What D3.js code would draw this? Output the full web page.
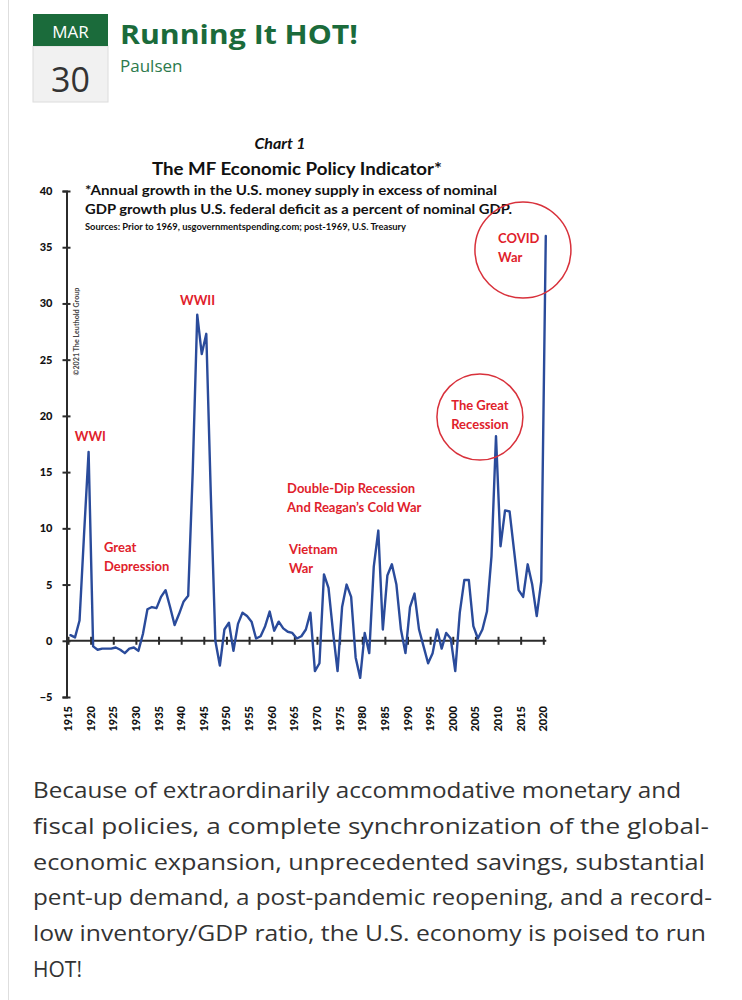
<!DOCTYPE html>
<html><head><meta charset="utf-8">
<script src="https://cdn.jsdelivr.net/npm/d3@7"></script>
<style>html,body{margin:0;padding:0;background:#fff;} svg{display:block;}</style>
</head><body>
<svg id="c" width="742" height="1000"></svg>
<script>
// ---------- data ----------
const years = d3.range(1915, 2021);
const values = [
  0.5, 0.3, 1.8, 9.5, 16.8,                               // 1915-1919
  -0.5, -0.8, -0.7, -0.7, -0.7, -0.6, -0.8, -1.1, -0.7, -0.6, // 1920s
  -0.9, 0.6, 2.8, 3.0, 2.9, 3.9, 4.5, 3.0, 1.4, 2.4,      // 1930s
  3.5, 4.0, 15.0, 29.0, 25.5, 27.3, 13.0, 0.0, -2.2, 1.0, // 1940s
  1.6, -0.9, 1.5, 2.5, 2.2, 1.7, 0.2, 0.4, 1.3, 2.6,      // 1950s
  0.9, 1.7, 1.1, 0.8, 0.7, 0.2, 0.4, 1.0, 2.5, -2.7,      // 1960s
  -2.0, 5.9, 4.7, 0.8, -2.7, 3.0, 5.0, 3.9, -1.5, -3.3,   // 1970s
  0.7, -1.1, 6.6, 9.8, 1.0, 5.8, 6.8, 5.0, 1.0, -1.1,     // 1980s
  3.0, 4.2, 1.0, -0.5, -2.0, -1.1, 1.0, -0.7, 0.7, 0.2,   // 1990s
  -2.7, 2.5, 5.4, 5.4, 1.3, 0.2, 1.0, 2.6, 7.5, 18.2,     // 2000s
  8.4, 11.6, 11.5, 8.0, 4.5, 3.9, 6.8, 5.0, 2.2, 5.3,     // 2010s
  36.0                                                    // 2020
];
const yTickValues = [-5, 0, 5, 10, 15, 20, 25, 30, 35, 40];
const xTickValues = d3.range(1915, 2021, 5);

const annotationLines = [
  ["WWI"],
  ["Great", "Depression"],
  ["WWII"],
  ["Double-Dip Recession", "And Reagan\u2019s Cold War"],
  ["Vietnam", "War"],
  ["The Great", "Recession"],
  ["COVID", "War"]
];
const annotationAnchors = [
  [1916.5, 17.8], [1922.95, 7.9], [1939.75, 29.9], [1963.4, 13.1],
  [1963.8, 7.7], [2006.0, 20.5], [2010.0, 35.4]
];
const annotationAlign = ["start","start","start","start","start","middle","start"];
const circleCenters = [[2006.0, 19.9], [2015.5, 34.75]];
const circleRadii = [43, 48];

const bodyLines = [
  "Because of extraordinarily accommodative monetary and",
  "fiscal policies, a complete synchronization of the global-",
  "economic expansion, unprecedented savings, substantial",
  "pent-up demand, a post-pandemic reopening, and a record-",
  "low inventory/GDP ratio, the U.S. economy is poised to run",
  "HOT!"
];
const bodyWidths = [648, 676, 672, 679, 673, null];

// ---------- drawing ----------
const svg = d3.select("#c");
svg.append("rect").attr("width", 742).attr("height", 1000).attr("fill", "#fff");
svg.append("line").attr("x1", 8.5).attr("x2", 8.5).attr("y1", 0).attr("y2", 1000)
  .attr("stroke", "#dedede").attr("stroke-width", 1);

// header
const green = "#1b6b3b";
svg.append("rect").attr("x", 33).attr("y", 46).attr("width", 75).attr("height", 56)
  .attr("fill", "#f1f1f1").attr("stroke", "#dcdcdc");
svg.append("rect").attr("x", 33).attr("y", 14).attr("width", 75).attr("height", 32)
  .attr("fill", green);
svg.append("text").attr("x", 70.5).attr("y", 38).attr("text-anchor", "middle")
  .attr("font-family", "Open Sans").attr("font-size", 17).attr("fill", "#fff").text("MAR");
svg.append("text").attr("x", 70.5).attr("y", 92).attr("text-anchor", "middle")
  .attr("font-family", "Open Sans").attr("font-size", 34).attr("fill", "#333").text("30");
svg.append("text").attr("x", 120).attr("y", 44)
  .attr("font-family", "Open Sans").attr("font-weight", 700).attr("font-size", 27)
  .attr("fill", green).attr("textLength", 238).attr("lengthAdjust", "spacingAndGlyphs")
  .text("Running It HOT!");
svg.append("text").attr("x", 120).attr("y", 72)
  .attr("font-family", "Open Sans").attr("font-size", 17).attr("fill", "#2c7a4c").text("Paulsen");

// chart titles
const cf = "Lato";
svg.append("text").attr("x", 280).attr("y", 149).attr("text-anchor", "middle")
  .attr("font-family", cf).attr("font-weight", 700).attr("font-style", "italic")
  .attr("font-size", 16).attr("fill", "#111").text("Chart 1");
svg.append("text").attr("x", 297).attr("y", 175).attr("text-anchor", "middle")
  .attr("font-family", cf).attr("font-weight", 700).attr("font-size", 16.5).attr("fill", "#111")
  .attr("textLength", 290).attr("lengthAdjust", "spacingAndGlyphs")
  .text("The MF Economic Policy Indicator*");
svg.append("text").attr("x", 85).attr("y", 195)
  .attr("font-family", cf).attr("font-weight", 700).attr("font-size", 12.5).attr("fill", "#111")
  .attr("textLength", 412).attr("lengthAdjust", "spacingAndGlyphs")
  .text("*Annual growth in the U.S. money supply in excess of nominal");
svg.append("text").attr("x", 85).attr("y", 214)
  .attr("font-family", cf).attr("font-weight", 700).attr("font-size", 12.5).attr("fill", "#111")
  .attr("textLength", 427).attr("lengthAdjust", "spacingAndGlyphs")
  .text("GDP growth plus U.S. federal deficit as a percent of nominal GDP.");
svg.append("text").attr("x", 85).attr("y", 230)
  .attr("font-family", cf).attr("font-weight", 700).attr("font-size", 8.5).attr("fill", "#111")
  .attr("textLength", 321).attr("lengthAdjust", "spacingAndGlyphs")
  .text("Sources: Prior to 1969, usgovernmentspending.com; post-1969, U.S. Treasury");

// scales
const x = d3.scaleLinear().domain([1915, 2020]).range([68, 543.3]);
const y = d3.scaleLinear().domain([-5, 40]).range([697, 191]);
const pointShift = 0.55; // points sit slightly right of their tick
const axisColor = "#2b2b2b";

// y axis
const gy = svg.append("g").attr("transform", `translate(${x(1915) - 1.5},0)`)
  .call(d3.axisLeft(y).tickValues(yTickValues).tickSize(4).tickPadding(10));
gy.select(".domain").attr("stroke", axisColor).attr("stroke-width", 2);
gy.selectAll(".tick line").attr("x1", -4).attr("x2", 4).attr("stroke", axisColor).attr("stroke-width", 2);
gy.selectAll(".tick text").attr("font-family", cf).attr("font-weight", 900)
  .attr("font-size", 11).attr("fill", "#111");

// x axis at zero
const gx = svg.append("g").attr("transform", `translate(0,${y(0)})`)
  .call(d3.axisBottom(x).tickValues(xTickValues).tickSize(4).tickFormat(""));
gx.select(".domain").attr("d", `M${x(1915) - 2},0H${x(2020) + 3}`)
  .attr("stroke", axisColor).attr("stroke-width", 2);
gx.selectAll(".tick line").attr("y1", -4).attr("y2", 4).attr("stroke", axisColor).attr("stroke-width", 2);

// x tick labels (rotated) below plot
svg.append("g").selectAll("text").data(xTickValues).join("text")
  .attr("transform", d => `translate(${x(d) + 4},706) rotate(-90)`)
  .attr("text-anchor", "end")
  .attr("font-family", cf).attr("font-weight", 900).attr("font-size", 11).attr("fill", "#111")
  .text(d => d);

// copyright
svg.append("text").attr("transform", `translate(${x(1915) + 11},${y(27.5)}) rotate(-90)`)
  .attr("text-anchor", "middle").attr("font-family", cf).attr("font-weight", 700).attr("font-size", 7.2)
  .attr("fill", "#444").text("\u00a92021 The Leuthold Group");

// line
const series = years.map((yr, i) => ({ year: yr, value: values[i] }));
svg.append("path").datum(series)
  .attr("fill", "none").attr("stroke", "#2a4b9b").attr("stroke-width", 2.4)
  .attr("stroke-linejoin", "round").attr("stroke-linecap", "round")
  .attr("d", d3.line().x(d => x(d.year + pointShift)).y(d => y(d.value)));

// circles
svg.append("g").selectAll("circle").data(circleCenters).join("circle")
  .attr("cx", d => x(d[0])).attr("cy", d => y(d[1])).attr("r", (d, i) => circleRadii[i])
  .attr("fill", "none").attr("stroke", "#d8313b").attr("stroke-width", 1.5);

// annotations
const ag = svg.append("g");
annotationLines.forEach((lines, i) => {
  const [ax, ay] = annotationAnchors[i];
  lines.forEach((t, j) => {
    ag.append("text").attr("x", x(ax)).attr("y", y(ay) + j * 19)
      .attr("text-anchor", annotationAlign[i])
      .attr("font-family", cf).attr("font-weight", 700).attr("font-size", 13)
      .attr("fill", "#e0212b").text(t);
  });
});

// body text
const bt = svg.append("g").selectAll("text").data(bodyLines).join("text")
  .attr("x", 33).attr("y", (d, i) => 798 + i * 35.8)
  .attr("font-family", "Open Sans").attr("font-size", 21).attr("fill", "#333")
  .text(d => d);
bt.filter((d, i) => bodyWidths[i] !== null)
  .attr("textLength", (d) => bodyWidths[bodyLines.indexOf(d)]).attr("lengthAdjust", "spacingAndGlyphs");
</script>
</body></html>
